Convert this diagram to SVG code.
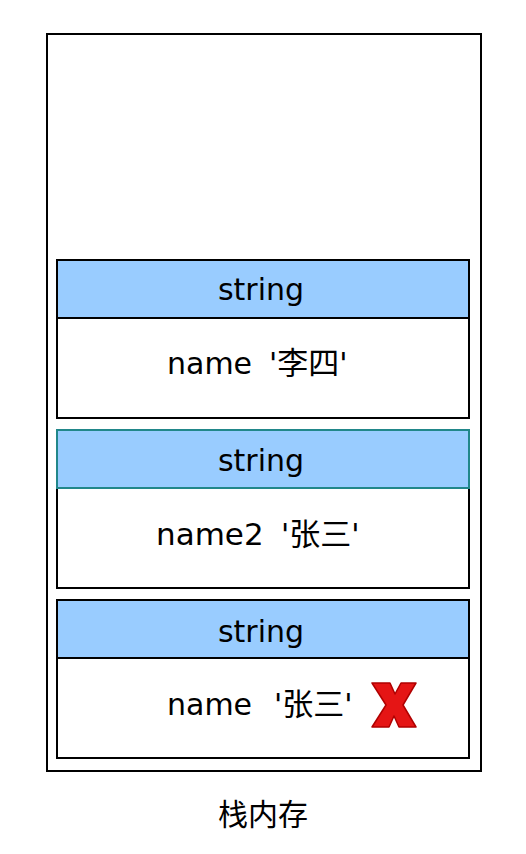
<svg xmlns="http://www.w3.org/2000/svg" width="526" height="854" viewBox="0 0 526 854">
<style>
.t{font-family:"DejaVu Sans","Noto Sans CJK SC",sans-serif;font-size:30px;fill:#000}
.c{text-anchor:middle}
.k{font-size:31px}
.hd{fill:#99CCFF;stroke:#000;stroke-width:2}
.bd{fill:#fff;stroke:#000;stroke-width:2}
.tl{stroke:#21878A}
</style>
<rect width="526" height="854" fill="#fff"/>
<g id="stack">
<rect x="47" y="34" width="434" height="737" fill="#fff" stroke="#000" stroke-width="2"/>
</g>
<g id="box1">
<rect class="bd" x="57" y="318" width="412" height="100"/>
<rect class="hd" x="57" y="260" width="412" height="58"/>
<text class="t c" x="261" y="300">string</text>
<text class="t" y="374"><tspan x="167">name</tspan><tspan x="269">'</tspan><tspan class="k">李四</tspan><tspan>'</tspan></text>
</g>
<g id="box2">
<rect class="bd" x="57" y="488" width="412" height="100"/>
<rect class="hd tl" x="57" y="430" width="412" height="58"/>
<text class="t c" x="261" y="471">string</text>
<text class="t" y="545"><tspan x="156" font-size="31">name2</tspan><tspan x="281">'</tspan><tspan class="k">张三</tspan><tspan>'</tspan></text>
</g>
<g id="box3">
<rect class="bd" x="57" y="658" width="412" height="100"/>
<rect class="hd" x="57" y="600" width="412" height="58"/>
<text class="t c" x="261" y="642">string</text>
<text class="t" y="715"><tspan x="167">name</tspan><tspan x="274">'</tspan><tspan class="k">张三</tspan><tspan>'</tspan></text>
<polygon points="372,683 390,683 395,694 401,683 416,683 403,705 416,727 399,727 394,716 389,727 372,727 386,705" fill="#E51515" stroke="#B00000" stroke-width="1.5" stroke-linejoin="round"/>
</g>
<g id="label">
<text class="t c" x="263" y="825">栈内存</text>
</g>
<g id="connectors"></g>
</svg>
